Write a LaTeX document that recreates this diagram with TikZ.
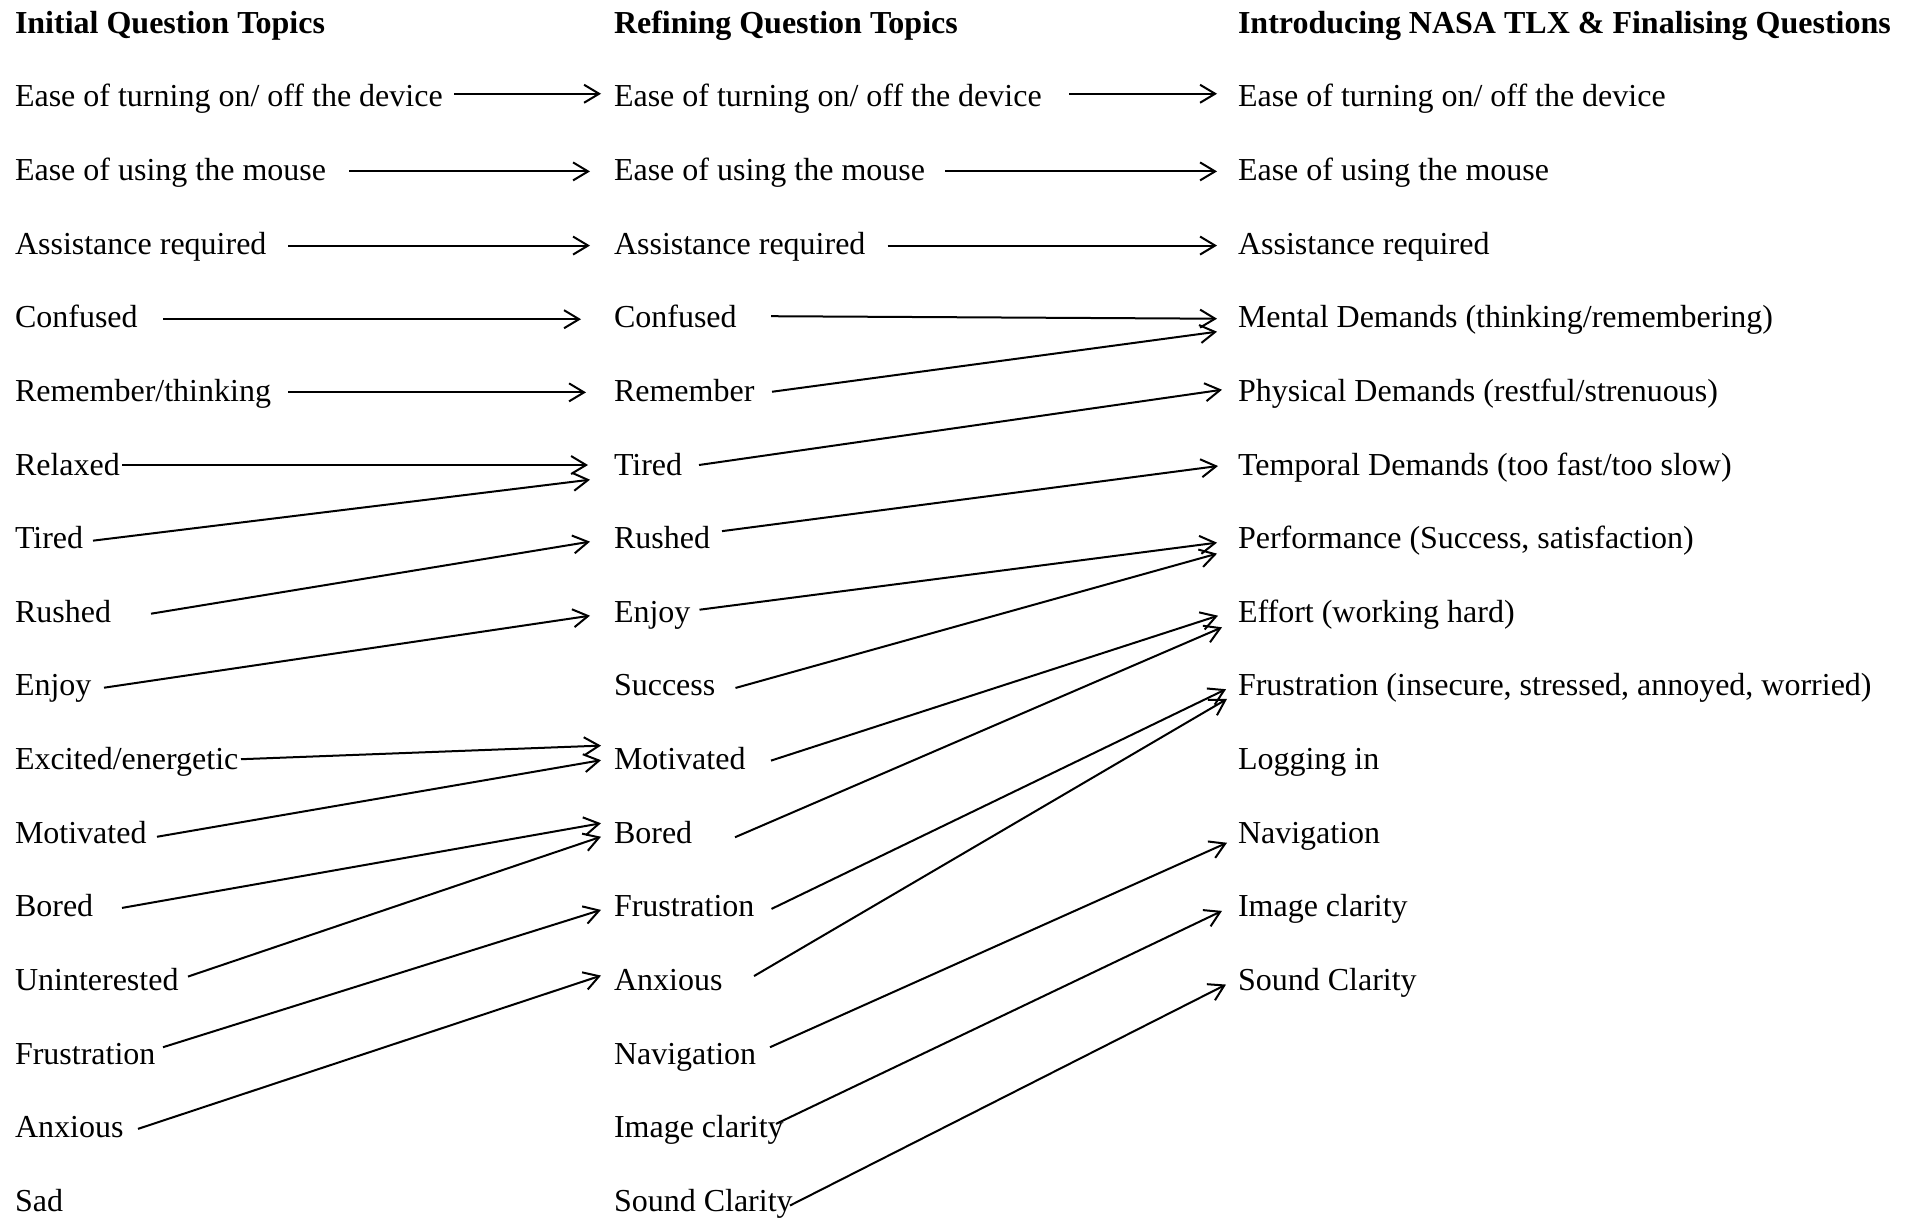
\documentclass[tikz,border=0pt]{standalone}
\usepackage{fontspec}
\setmainfont{Liberation Serif}
\usetikzlibrary{arrows.meta,calc}
\tikzset{
  lbl/.style={anchor=base west, inner sep=0pt, outer sep=0pt, font=\fontsize{32}{38}\selectfont},
  hdr/.style={lbl, font=\fontsize{32}{38}\selectfont\bfseries},
  arr/.style={line width=2pt, -{Straight Barb[length=15pt,width=18pt,line width=2pt]}}
}
\begin{document}
\begin{tikzpicture}[x=1pt,y=-1pt]
\useasboundingbox[fill=white] (0,0) rectangle (1910,1219);
% column 1
\node[hdr] (L0) at (15,33.1) {Initial Question Topics};
\node[lbl] (L1) at (15,106.75) {Ease of turning on/ off the device};
\node[lbl] (L2) at (15,180.4) {Ease of using the mouse};
\node[lbl] (L3) at (15,254.05) {Assistance required};
\node[lbl] (L4) at (15,327.7) {Confused};
\node[lbl] (L5) at (15,401.35) {Remember/thinking};
\node[lbl] (L6) at (15,475.0) {Relaxed};
\node[lbl] (L7) at (15,548.65) {Tired};
\node[lbl] (L8) at (15,622.3) {Rushed};
\node[lbl] (L9) at (15,695.95) {Enjoy};
\node[lbl] (L10) at (15,769.6) {Excited/energetic};
\node[lbl] (L11) at (15,843.25) {Motivated};
\node[lbl] (L12) at (15,916.9) {Bored};
\node[lbl] (L13) at (15,990.55) {Uninterested};
\node[lbl] (L14) at (15,1064.2) {Frustration};
\node[lbl] (L15) at (15,1137.85) {Anxious};
\node[lbl] (L16) at (15,1211.5) {Sad};
% column 2
\node[hdr] (M0) at (614,33.1) {Refining Question Topics};
\node[lbl] (M1) at (614,106.75) {Ease of turning on/ off the device};
\node[lbl] (M2) at (614,180.4) {Ease of using the mouse};
\node[lbl] (M3) at (614,254.05) {Assistance required};
\node[lbl] (M4) at (614,327.7) {Confused};
\node[lbl] (M5) at (614,401.35) {Remember};
\node[lbl] (M6) at (614,475.0) {Tired};
\node[lbl] (M7) at (614,548.65) {Rushed};
\node[lbl] (M8) at (614,622.3) {Enjoy};
\node[lbl] (M9) at (614,695.95) {Success};
\node[lbl] (M10) at (614,769.6) {Motivated};
\node[lbl] (M11) at (614,843.25) {Bored};
\node[lbl] (M12) at (614,916.9) {Frustration};
\node[lbl] (M13) at (614,990.55) {Anxious};
\node[lbl] (M14) at (614,1064.2) {Navigation};
\node[lbl] (M15) at (614,1137.85) {Image clarity};
\node[lbl] (M16) at (614,1211.5) {Sound Clarity};
% column 3
\node[hdr] (R0) at (1238,33.1) {Introducing NASA TLX \& Finalising Questions};
\node[lbl] (R1) at (1238,106.75) {Ease of turning on/ off the device};
\node[lbl] (R2) at (1238,180.4) {Ease of using the mouse};
\node[lbl] (R3) at (1238,254.05) {Assistance required};
\node[lbl] (R4) at (1238,327.7) {Mental Demands (thinking/remembering)};
\node[lbl] (R5) at (1238,401.35) {Physical Demands (restful/strenuous)};
\node[lbl] (R6) at (1238,475.0) {Temporal Demands (too fast/too slow)};
\node[lbl] (R7) at (1238,548.65) {Performance (Success, satisfaction)};
\node[lbl] (R8) at (1238,622.3) {Effort (working hard)};
\node[lbl] (R9) at (1238,695.95) {Frustration (insecure, stressed, annoyed, worried)};
\node[lbl] (R10) at (1238,769.6) {Logging in};
\node[lbl] (R11) at (1238,843.25) {Navigation};
\node[lbl] (R12) at (1238,916.9) {Image clarity};
\node[lbl] (R13) at (1238,990.55) {Sound Clarity};
% arrows column 1 -> column 2
\draw[arr] ([shift={(439,-13)}]L1.base west) -- ([shift={(-13,-13)}]M1.base west);
\draw[arr] ([shift={(334,-9)}]L2.base west) -- ([shift={(-24,-9)}]M2.base west);
\draw[arr] ([shift={(273,-8.5)}]L3.base west) -- ([shift={(-24,-8.5)}]M3.base west);
\draw[arr] ([shift={(148,-8.5)}]L4.base west) -- ([shift={(-33,-8.5)}]M4.base west);
\draw[arr] ([shift={(273,-9)}]L5.base west) -- ([shift={(-28,-9)}]M5.base west);
\draw[arr] ([shift={(107,-10)}]L6.base west) -- ([shift={(-26,-10)}]M6.base west);
\draw[arr] ([shift={(78,-8)}]L7.base west) -- ([shift={(-24,4.7)}]M6.base west);
\draw[arr] ([shift={(136,-8.6)}]L8.base west) -- ([shift={(-24,-7)}]M7.base west);
\draw[arr] ([shift={(89,-8.25)}]L9.base west) -- ([shift={(-24,-6.6)}]M8.base west);
\draw[arr] ([shift={(226,-10.4)}]L10.base west) -- ([shift={(-13,-24)}]M10.base west);
\draw[arr] ([shift={(142,-6.5)}]L11.base west) -- ([shift={(-13,-9.4)}]M10.base west);
\draw[arr] ([shift={(107,-9)}]L12.base west) -- ([shift={(-13,-20)}]M11.base west);
\draw[arr] ([shift={(173,-14)}]L13.base west) -- ([shift={(-13,-6.5)}]M11.base west);
\draw[arr] ([shift={(148,-17)}]L14.base west) -- ([shift={(-13,-7)}]M12.base west);
\draw[arr] ([shift={(123,-9)}]L15.base west) -- ([shift={(-13,-15)}]M13.base west);
% arrows column 2 -> column 3
\draw[arr] ([shift={(455,-13)}]M1.base west) -- ([shift={(-21,-13)}]R1.base west);
\draw[arr] ([shift={(331,-9)}]M2.base west) -- ([shift={(-21,-9)}]R2.base west);
\draw[arr] ([shift={(273.5,-8.5)}]M3.base west) -- ([shift={(-21,-8.5)}]R3.base west);
\draw[arr] ([shift={(157,-11.5)}]M4.base west) -- ([shift={(-21,-9)}]R4.base west);
\draw[arr] ([shift={(158,-9.6)}]M5.base west) -- ([shift={(-21,4)}]R4.base west);
\draw[arr] ([shift={(85,-10)}]M6.base west) -- ([shift={(-16,-11.6)}]R5.base west);
\draw[arr] ([shift={(108,-17.5)}]M7.base west) -- ([shift={(-20,-9)}]R6.base west);
\draw[arr] ([shift={(85.5,-12.6)}]M8.base west) -- ([shift={(-21,-6)}]R7.base west);
\draw[arr] ([shift={(121.5,-8)}]M9.base west) -- ([shift={(-21,5)}]R7.base west);
\draw[arr] ([shift={(157,-9)}]M10.base west) -- ([shift={(-20,-6.6)}]R8.base west);
\draw[arr] ([shift={(121,-6)}]M11.base west) -- ([shift={(-16,5)}]R8.base west);
\draw[arr] ([shift={(157.5,-8)}]M12.base west) -- ([shift={(-12,-6.75)}]R9.base west);
\draw[arr] ([shift={(140,-14.5)}]M13.base west) -- ([shift={(-11,3)}]R9.base west);
\draw[arr] ([shift={(156,-17)}]M14.base west) -- ([shift={(-11,-0.5)}]R11.base west);
\draw[arr] ([shift={(162,-14)}]M15.base west) -- ([shift={(-16,-6)}]R12.base west);
\draw[arr] ([shift={(176,-6)}]M16.base west) -- ([shift={(-12,-6)}]R13.base west);
\end{tikzpicture}
\end{document}
